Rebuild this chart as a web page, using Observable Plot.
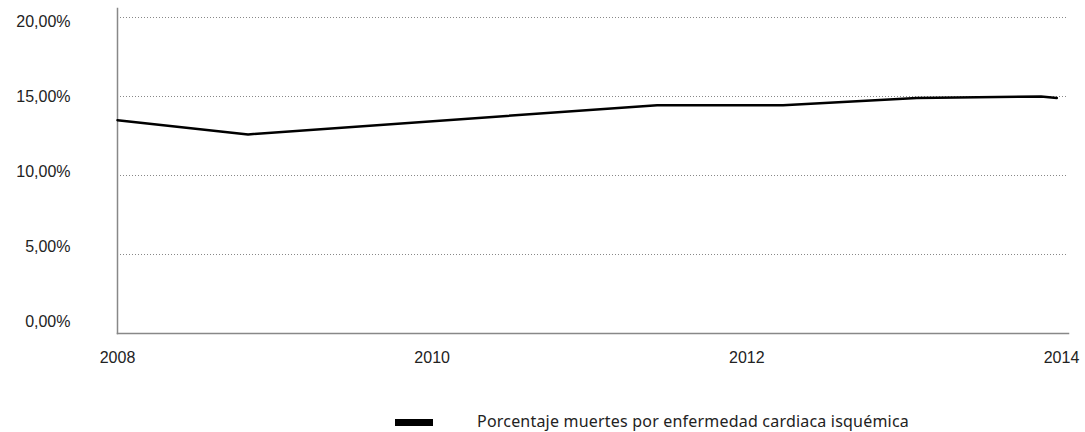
<!DOCTYPE html>
<html>
<head>
<meta charset="utf-8">
<script src="https://cdn.jsdelivr.net/npm/d3@7"></script>
<script src="https://cdn.jsdelivr.net/npm/@observablehq/plot@0.6"></script>
<style>
  body { margin: 0; background: #fff; }
  #wrap { width: 1085px; }
  #legend { position: relative; height: 52px; font-family: "Noto Sans", "Open Sans", sans-serif; font-size: 16px; letter-spacing: 0.2px; color: #222; }
  #legend .sw { position: absolute; left: 395px; top: 39px; width: 38px; height: 7px; background: #000; }
  #legend .lb { position: absolute; left: 477px; top: 30px; white-space: nowrap; }
</style>
</head>
<body>
<div id="wrap"></div>
<script>
// Data (x = position in years, y = percent)
const years = [2008.0, 2008.83, 2011.43, 2012.23, 2013.08, 2013.87, 2013.97];
const values = [13.5, 12.6, 14.45, 14.45, 14.9, 15.0, 14.9];
const xTicks = [2008, 2010, 2012, 2014];
const yTicks = [0, 5, 10, 15, 20];
const gridTicks = [5, 10, 15, 20];
const seriesName = "Porcentaje muertes por enfermedad cardiaca isquémica";

const data = years.map((x, i) => ({x, y: values[i]}));

const yFmt = d => d.toFixed(2).replace(".", ",") + "%";
// the original's tick labels sit on a slightly compressed spacing relative to the gridlines
const yAxes = yTicks.map(t => Plot.axisY({ticks: [t], tickSize: 0, tickPadding: 47,
  dy: -12 + 0.8 * t, tickFormat: yFmt, label: null, fill: "#222"}));

const chart = Plot.plot({
  width: 1085,
  height: 380,
  marginLeft: 117,
  marginRight: 17,
  marginTop: 8,
  marginBottom: 47,
  style: {fontFamily: "'Liberation Sans', Arial, sans-serif", fontSize: "16px", color: "#222", background: "#fff"},
  x: {domain: [2008, 2014], range: [117, 1061]},
  y: {domain: [0, 20], range: [333, 17]},
  marks: [
    Plot.ruleY(gridTicks, {stroke: "#888", strokeWidth: 1, strokeDasharray: "1,2"}),
    Plot.frame({anchor: "left", stroke: "#888", strokeWidth: 1.5}),
    Plot.frame({anchor: "bottom", stroke: "#888", strokeWidth: 1.5}),
    ...yAxes,
    Plot.axisX({ticks: xTicks, tickSize: 0, tickPadding: 18, tickFormat: d => String(d), label: null, fill: "#222"}),
    Plot.line(data, {x: "x", y: "y", stroke: "#000", strokeWidth: 2.5})
  ]
});
document.getElementById("wrap").appendChild(chart);

const legend = document.createElement("div");
legend.id = "legend";
legend.innerHTML = `<div class="sw"></div><div class="lb"></div>`;
legend.querySelector(".lb").textContent = seriesName;
document.getElementById("wrap").appendChild(legend);
</script>
</body>
</html>
